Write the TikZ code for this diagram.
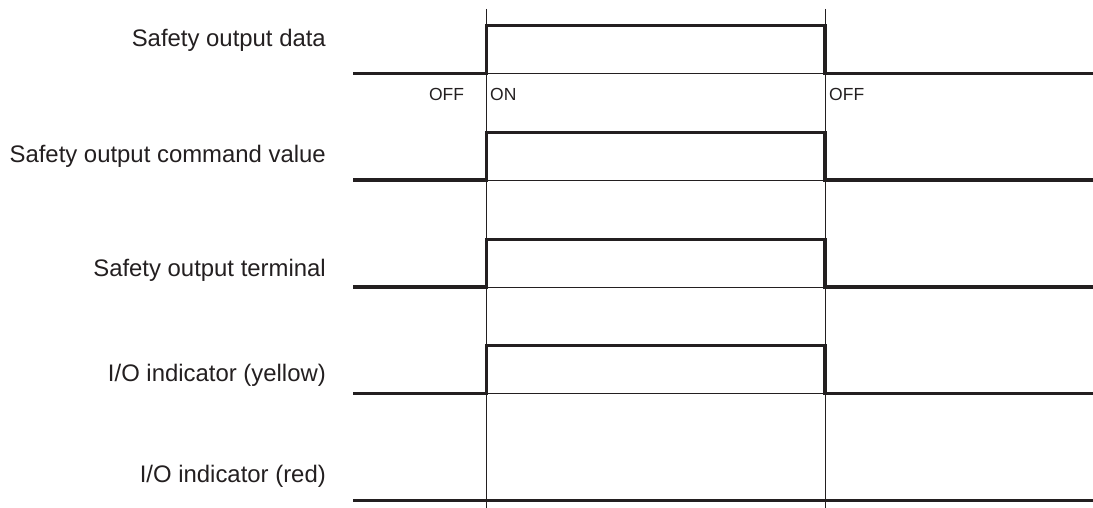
\documentclass[tikz,border=0pt]{standalone}
\usepackage{fontspec}
\setmainfont{Liberation Sans}
\definecolor{ink}{HTML}{231F20}
\begin{document}
\begin{tikzpicture}[x=1pt,y=-1pt,
  sig/.style={draw=ink,line width=3.4pt,line join=miter},
  grid/.style={draw=ink,line width=0.9pt},
  lbl/.style={anchor=base east,inner sep=0pt,text=ink,font=\fontsize{23.9}{28}\selectfont},
  st/.style={anchor=base west,inner sep=0pt,text=ink,font=\fontsize{17.5}{20}\selectfont}]
\useasboundingbox (0,0) rectangle (1093,508);
% time markers
\coordinate (t1top) at (486.7,9);
\coordinate (t1bot) at (486.7,508);
\coordinate (t2top) at (825,9);
\coordinate (t2bot) at (825,508);
\draw[grid] (t1top) -- (t1bot);
\draw[grid] (t2top) -- (t2bot);
% labels
\node[lbl] (l1) at (326,46.7) {Safety output data};
\node[lbl] (l2) at (326,162.3) {Safety output command value};
\node[lbl] (l3) at (326,276.7) {Safety output terminal};
\node[lbl] (l4) at (326,381) {I/O indicator (yellow)};
\node[lbl] (l5) at (326,482.3) {I/O indicator (red)};
% state labels
\node[st,anchor=base east] (off1) at (464.3,100.7) {OFF};
\node[st] (on1) at (490,100.7) {ON};
\node[st] (off2) at (829,100.7) {OFF};
% signals
\foreach \lo/\hi in {73.3/25.7,180/132.7,287/239.5,393.3/345.7}{
  \draw[grid] (486.7,\lo) -- (825,\lo);
  \draw[sig] (353,\lo) -- (486.7,\lo) -- (486.7,\hi) -- (825,\hi) -- (825,\lo) -- (1093,\lo);
}
\draw[sig] (353,500.5) -- (1093,500.5);
\end{tikzpicture}
\end{document}
